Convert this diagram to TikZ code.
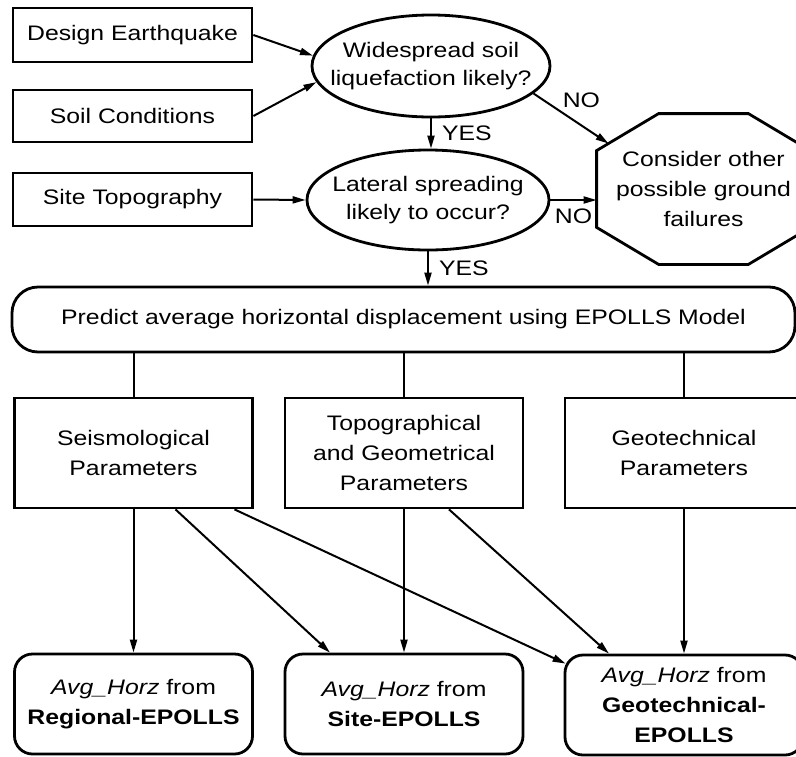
\documentclass[tikz,border=0pt]{standalone}
\usepackage{fontspec}
\setmainfont{Liberation Sans}[FakeStretch=1.18]
\usetikzlibrary{positioning, arrows.meta, shapes.geometric, calc}

\begin{document}
\begin{tikzpicture}[
  x=1pt, y=-1pt,
  nd/.style={rectangle, draw=black, line width=2.8pt, align=center,
    font=\fontsize{21}{30}\selectfont, inner sep=0pt},
  innd/.style={nd, minimum width=239pt},
  parnd/.style={nd, minimum width=238pt, minimum height=110pt},
  resnd/.style={nd, rounded corners=18pt, minimum width=238pt, minimum height=100pt},
  decnd/.style={nd, ellipse, inner xsep=-18pt, inner ysep=8pt,
    minimum width=240pt, minimum height=101pt, font=\fontsize{21}{28}\selectfont},
  lbl/.style={font=\fontsize{21}{24}\selectfont, inner sep=2pt},
  arr/.style={-{Triangle[length=13pt, width=7pt]}, line width=2pt},
  ln/.style={line width=2pt},
]
  \useasboundingbox (0,0) rectangle (796,756);
  \fill[white] (0,0) rectangle (796,756);

  % inputs and decisions
  \node[innd, minimum height=54pt] (quake) at (132.5,35) {Design Earthquake};
  \node[innd, minimum height=52pt] (soil) at (132.5,116) {Soil Conditions};
  \node[innd, minimum height=53pt] (topog) at (132.5,199.5) {Site Topography};
  \node[decnd, minimum width=238pt, minimum height=102pt] (liq) at (431,66) {Widespread soil\\liquefaction likely?};
  \node[decnd, minimum width=242pt, minimum height=100pt] (lat) at (428,200) {Lateral spreading\\likely to occur?};
  \node[nd, draw=none, minimum width=211pt, minimum height=148pt] (other) at (703.5,189)
    {Consider other\\possible ground\\failures};
  \draw[nd] ([yshift=-37]other.north west) -- ([xshift=62]other.north west)
    -- ([xshift=-62]other.north east) -- ([yshift=-37]other.north east)
    -- ([yshift=37]other.south east) -- ([xshift=-62]other.south east)
    -- ([xshift=62]other.south west) -- ([yshift=37]other.south west) -- cycle;
  \coordinate (otherin) at ([xshift=12,yshift=-30]other.north west);

  \draw[arr] (quake.east) -- (liq.175);
  \draw[arr] (soil.east) -- (liq.188);
  \draw[arr] (topog.east) -- (lat.west);
  \draw[arr] (liq.south) -- node[right=8pt, lbl]{YES} (liq.south |- lat.north);
  \draw[arr] (liq.-15) -- node[pos=0.35, above right, lbl]{NO} (otherin);
  \draw[arr] (lat.east) -- node[below=6pt, lbl]{NO} (lat.east -| other.west);

  % EPOLLS model
  \node[nd, rounded corners=26pt, minimum width=783pt, minimum height=65pt] (pred) at (403.5,319.5)
    {Predict average horizontal displacement using EPOLLS Model};
  \draw[arr] (lat.south) -- node[right=8pt, lbl]{YES} (lat.south |- pred.north);

  \node[parnd] (seis) at (133.5,453) {Seismological\\Parameters};
  \node[parnd] (geom) at (404,453) {Topographical\\and Geometrical\\Parameters};
  \node[parnd] (geot) at (684,453) {Geotechnical\\Parameters};
  \draw[ln] (pred.south -| seis.north) -- (seis.north);
  \draw[ln] (pred.south -| geom.north) -- (geom.north);
  \draw[ln] (pred.south -| geot.north) -- (geot.north);

  % results
  \node[resnd] (reg) at (133.5,704) {{\itshape Avg\_Horz} from\\\textbf{Regional-EPOLLS}};
  \node[resnd] (site) at (404,704) {{\itshape Avg\_Horz} from\\\textbf{Site-EPOLLS}};
  \node[resnd] (geoep) at (684,705) {{\itshape Avg\_Horz} from\\\textbf{Geotechnical-}\\\textbf{EPOLLS}};

  \draw[arr] (seis.south) -- (reg.north);
  \draw[arr] ([xshift=42]seis.south) -- ([xshift=-74]site.north);
  \draw[arr] ([xshift=101]seis.south) -- ([xshift=2,yshift=-10]geoep.north west);
  \draw[arr] (geom.south) -- (site.north);
  \draw[arr] ([xshift=45]geom.south) -- ([xshift=-75]geoep.north);
  \draw[arr] (geot.south) -- (geoep.north);
\end{tikzpicture}
\end{document}
